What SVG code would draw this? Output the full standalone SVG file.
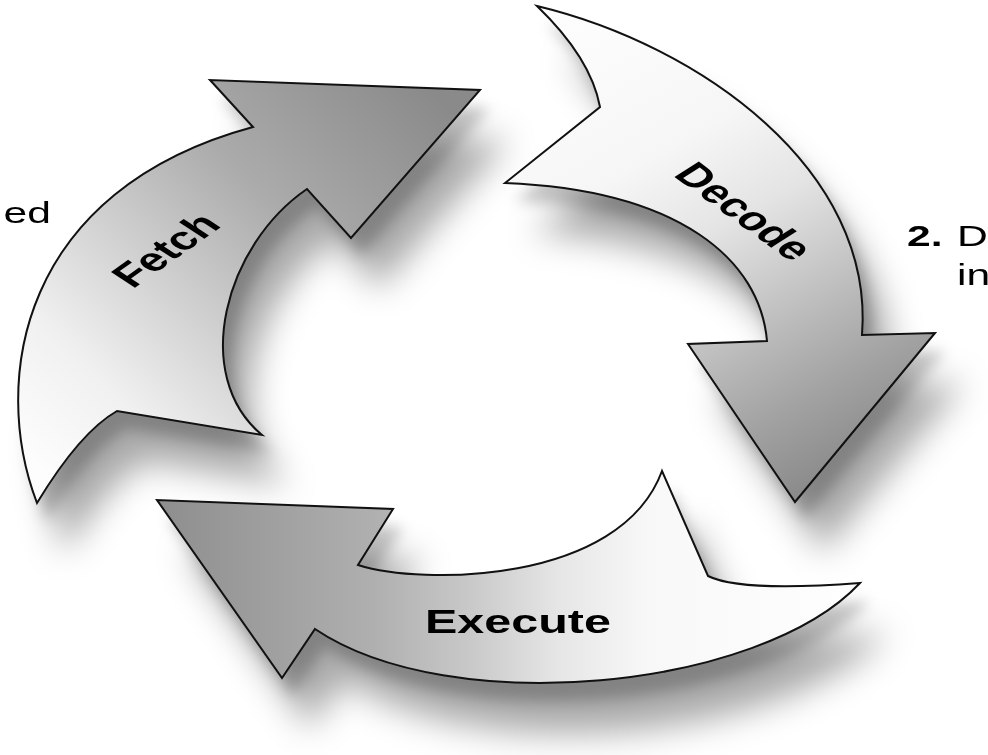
<svg xmlns="http://www.w3.org/2000/svg" width="988" height="755" viewBox="0 0 988 755">
  <style>
    .arrow { stroke: #111; stroke-width: 2; stroke-linejoin: miter; }
    .shadow-near { fill: #000; fill-opacity: 0.22; }
    .shadow-far { fill: #000; fill-opacity: 0.34; }
    .label { font-family: "Liberation Sans", Arial, sans-serif; font-weight: bold; font-size: 33px; fill: #000; text-anchor: middle; }
    .note { font-family: "Liberation Sans", Arial, sans-serif; font-size: 29px; fill: #000; }
  </style>
  <defs>
    <filter id="blur-near" x="-40%" y="-40%" width="180%" height="180%">
      <feGaussianBlur stdDeviation="7"/>
    </filter>
    <filter id="blur-far" x="-40%" y="-40%" width="180%" height="180%">
      <feGaussianBlur stdDeviation="17"/>
    </filter>
    <linearGradient id="g-fetch" gradientUnits="userSpaceOnUse" x1="50" y1="480" x2="430" y2="90">
      <stop offset="0" stop-color="#fdfdfd"/>
      <stop offset="0.2" stop-color="#f0f0f0"/>
      <stop offset="0.45" stop-color="#cacaca"/>
      <stop offset="0.65" stop-color="#ababab"/>
      <stop offset="1" stop-color="#8a8a8a"/>
    </linearGradient>
    <linearGradient id="g-decode" gradientUnits="userSpaceOnUse" x1="560" y1="20" x2="830" y2="500">
      <stop offset="0" stop-color="#fdfdfd"/>
      <stop offset="0.3" stop-color="#f6f6f6"/>
      <stop offset="0.47" stop-color="#e4e4e4"/>
      <stop offset="0.7" stop-color="#b8b8b8"/>
      <stop offset="0.82" stop-color="#a2a2a2"/>
      <stop offset="1" stop-color="#858585"/>
    </linearGradient>
    <linearGradient id="g-execute" gradientUnits="userSpaceOnUse" x1="860" y1="0" x2="160" y2="0">
      <stop offset="0" stop-color="#fefefe"/>
      <stop offset="0.3" stop-color="#f8f8f8"/>
      <stop offset="0.43" stop-color="#e6e6e6"/>
      <stop offset="0.56" stop-color="#c8c8c8"/>
      <stop offset="0.69" stop-color="#b0b0b0"/>
      <stop offset="1" stop-color="#8e8e8e"/>
    </linearGradient>
    <path id="p-fetch" d="M37,503 C-10,380 20,190 253,127 L210,80 L480,90 L351,238 L307,189 C225,245 190,375 262,435 L117,411 Q80,432 37,503 Z"/>
    <path id="p-decode" d="M537,6 C700,45 875,170 862,335 L935,333 L795,502 L688,344 L767,341 C760,260 680,190 505,183 L600,107 Q591,58 537,6 Z"/>
    <path id="p-execute" d="M662,471 L708,576 Q740,592 860,583 C760,690 450,720 315,629 L282,678 L157,500 L393,509 L358,565 C420,585 620,585 662,471 Z"/>
  </defs>

  <rect width="988" height="755" fill="#ffffff"/>

  <g id="shadows">
    <g filter="url(#blur-far)">
      <use href="#p-fetch" class="shadow-far" transform="translate(28,50)"/>
      <use href="#p-decode" class="shadow-far" transform="translate(28,50)"/>
      <use href="#p-execute" class="shadow-far" transform="translate(28,50)"/>
    </g>
    <g filter="url(#blur-near)">
      <use href="#p-fetch" class="shadow-near" transform="translate(10,18)"/>
      <use href="#p-decode" class="shadow-near" transform="translate(10,18)"/>
      <use href="#p-execute" class="shadow-near" transform="translate(10,18)"/>
    </g>
  </g>

  <g id="fetch">
    <use href="#p-fetch" class="arrow" fill="url(#g-fetch)"/>
    <text class="label" font-size="31" transform="translate(166,250) scale(1.47,1) rotate(-46)" y="11">Fetch</text>
  </g>

  <g id="decode">
    <use href="#p-decode" class="arrow" fill="url(#g-decode)"/>
    <text class="label" transform="translate(745,211) scale(1.47,1) rotate(47)" y="12">Decode</text>
  </g>

  <g id="execute">
    <use href="#p-execute" class="arrow" fill="url(#g-execute)"/>
    <text class="label" font-size="33.5" transform="translate(518,633) scale(1.47,1)">Execute</text>
  </g>

  <g id="notes">
    <text class="note" text-anchor="end" transform="translate(51,223) scale(1.47,1)">ed</text>
    <text class="note" font-weight="bold" transform="translate(907,246) scale(1.47,1)">2.</text>
    <text class="note" transform="translate(957,246) scale(1.47,1)">D</text>
    <text class="note" transform="translate(957,285) scale(1.47,1)">in</text>
  </g>
</svg>
